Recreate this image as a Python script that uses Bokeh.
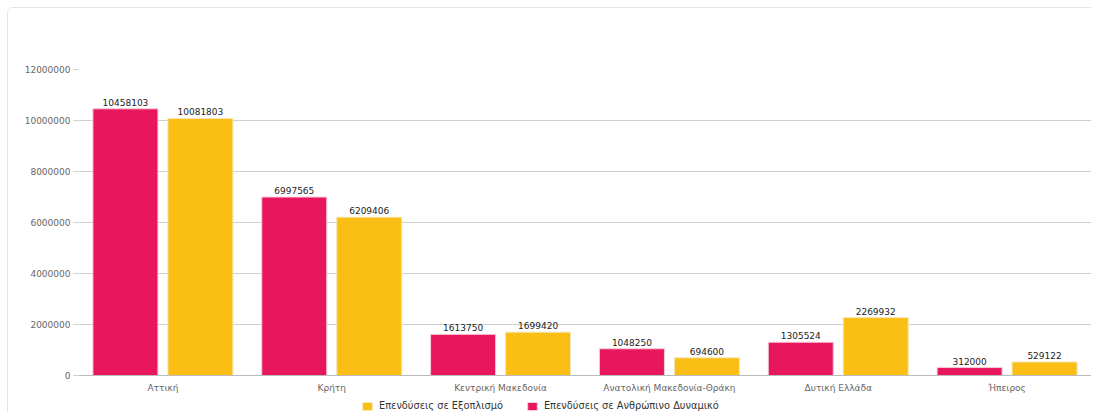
from bokeh.plotting import figure
from bokeh.models import ColumnDataSource, FactorRange, Legend, LegendItem, PrintfTickFormatter, FixedTicker, Range1d
from bokeh.transform import dodge
from bokeh.core.properties import value
from bokeh.embed import file_html
from bokeh.resources import INLINE

regions = ["Αττική", "Κρήτη", "Κεντρική Μακεδονία", "Ανατολική Μακεδονία-Θράκη", "Δυτική Ελλάδα", "Ήπειρος"]
human = [10458103, 6997565, 1613750, 1048250, 1305524, 312000]
equipment = [10081803, 6209406, 1699420, 694600, 2269932, 529122]
yticks = [0, 2000000, 4000000, 6000000, 8000000, 10000000, 12000000]
series_names = ["Επενδύσεις σε Εξοπλισμό", "Επενδύσεις σε Ανθρώπινο Δυναμικό"]

RED = "#E8175D"
YEL = "#FBBE15"
FONT = "DejaVu Sans"

# space below zero (for category labels and legend), in pixels
BELOW_PX = 38
TOP_VAL = 12000000
PLOT_PX = 306
y_start = -BELOW_PX / PLOT_PX * TOP_VAL

src = ColumnDataSource(dict(
    region=regions,
    human=human,
    equipment=equipment,
    human_lbl=[str(v) for v in human],
    equipment_lbl=[str(v) for v in equipment],
))

p = figure(width=1084, height=405, x_range=FactorRange(*regions), y_range=Range1d(y_start, TOP_VAL),
           output_backend="svg", toolbar_location=None,
           min_border_left=70, min_border_right=1, min_border_top=61, min_border_bottom=0)
p.styles = {"margin-left": "7px", "margin-top": "7px",
            "border-left": "1px solid #e4e4e4", "border-top": "1px solid #e4e4e4",
            "border-top-left-radius": "6px"}

p.x_range.range_padding = 0
p.outline_line_color = None

r1 = p.vbar(x=dodge("region", -0.222, range=p.x_range), top="human", width=0.385, source=src,
            fill_color=RED, line_color="#f6c9d6", line_width=1)
r2 = p.vbar(x=dodge("region", 0.222, range=p.x_range), top="equipment", width=0.385, source=src,
            fill_color=YEL, line_color="#f3e6b8", line_width=1)

p.text(x=dodge("region", -0.222, range=p.x_range), y="human", text="human_lbl", source=src,
       text_align="center", text_baseline="bottom", y_offset=-3, text_font_size="9px",
       text_color="#222222", text_font=value(FONT))
p.text(x=dodge("region", 0.222, range=p.x_range), y="equipment", text="equipment_lbl", source=src,
       text_align="center", text_baseline="bottom", y_offset=-3, text_font_size="9px",
       text_color="#222222", text_font=value(FONT))

p.yaxis.ticker = FixedTicker(ticks=yticks)
p.yaxis.formatter = PrintfTickFormatter(format="%d")
p.yaxis.axis_line_color = None
p.yaxis.major_tick_line_color = "#cccccc"
p.yaxis.major_tick_in = 0
p.yaxis.major_tick_out = 5
p.yaxis.minor_tick_line_color = None
p.yaxis.major_label_text_font = FONT
p.yaxis.major_label_text_font_size = "9px"
p.yaxis.major_label_text_color = "#666666"
p.yaxis.major_label_standoff = 3

p.xaxis.fixed_location = 0
p.xaxis.axis_line_color = "#bbbbbb"
p.xaxis.major_tick_line_color = None
p.xaxis.minor_tick_line_color = None
p.xaxis.major_label_text_font = FONT
p.xaxis.major_label_text_font_size = "9px"
p.xaxis.major_label_text_color = "#666666"
p.xaxis.major_label_standoff = 1

p.xgrid.grid_line_color = None
p.ygrid.grid_line_color = "#cfcfcf"
p.ygrid.grid_line_width = 1

legend = Legend(items=[LegendItem(label=series_names[0], renderers=[r2]),
                       LegendItem(label=series_names[1], renderers=[r1])],
                orientation="horizontal", location=(283, 2),
                label_text_font=FONT, label_text_font_size="9.8px", label_text_color="#333333",
                glyph_width=12, glyph_height=10, spacing=23, padding=0, margin=0,
                label_standoff=6, border_line_color=None, background_fill_alpha=0)
p.add_layout(legend, "center")

open("out.html", "w").write(file_html(p, INLINE))
